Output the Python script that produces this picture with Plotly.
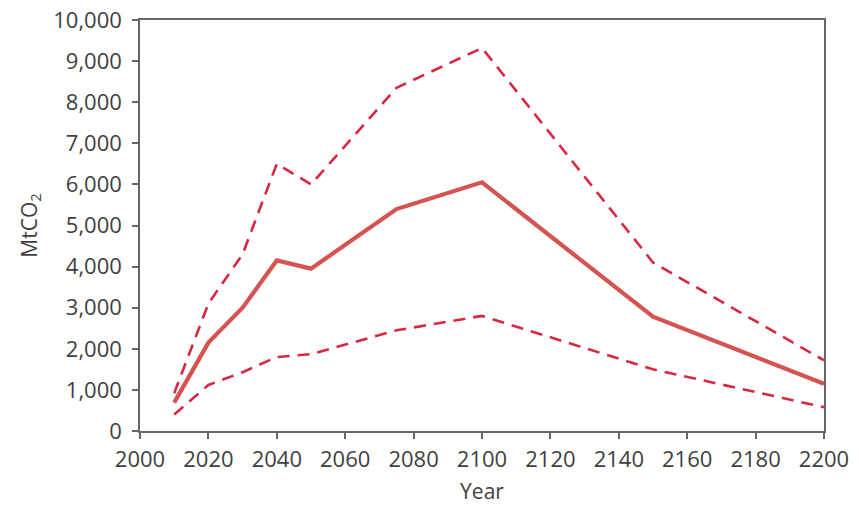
import plotly.graph_objects as go

years = [2010, 2020, 2030, 2040, 2050, 2075, 2100, 2150, 2200]
central = [690, 2150, 3000, 4150, 3950, 5400, 6050, 2780, 1150]
upper = [920, 3100, 4300, 6500, 6000, 8350, 9320, 4100, 1720]
lower = [400, 1120, 1430, 1800, 1870, 2450, 2800, 1500, 580]

x_ticks = list(range(2000, 2201, 20))
y_ticks = list(range(0, 10001, 1000))

FONT = "Open Sans"
TXT = "#3f3f3f"

fig = go.Figure()
fig.add_trace(go.Scatter(x=years, y=upper, mode="lines",
                         line=dict(color="rgb(214,40,64)", width=2.6, dash="12px,8px")))
fig.add_trace(go.Scatter(x=years, y=lower, mode="lines",
                         line=dict(color="rgb(214,40,64)", width=2.6, dash="12px,8px")))
fig.add_trace(go.Scatter(x=years, y=central, mode="lines",
                         line=dict(color="rgb(212,84,82)", width=4.2)))

axis_common = dict(showline=True, linecolor="#666", linewidth=1.5, mirror=True,
                   ticks="outside", ticklen=6, tickcolor="#666", tickwidth=1.5,
                   showgrid=False, zeroline=False, automargin=False,
                   tickfont=dict(family=FONT, size=22, color=TXT))

fig.update_layout(
    width=859, height=505,
    margin=dict(l=140, r=35, t=20, b=74),
    paper_bgcolor="white", plot_bgcolor="white",
    showlegend=False,
    xaxis=dict(range=[2000, 2200], tickvals=x_ticks, ticklabelstandoff=2,
               title=dict(text="Year", font=dict(family=FONT, size=21, color=TXT), standoff=14),
               **axis_common),
    yaxis=dict(range=[0, 10000], tickvals=y_ticks, tickformat=",d", ticklabelstandoff=6,
               title=dict(text="MtCO<sub>2</sub>", font=dict(family=FONT, size=21, color=TXT), standoff=10),
               **axis_common),
)

fig.write_html("out.html", config={"displayModeBar": False},
               post_script="document.body.style.margin='0px';document.body.style.padding='0px';")
